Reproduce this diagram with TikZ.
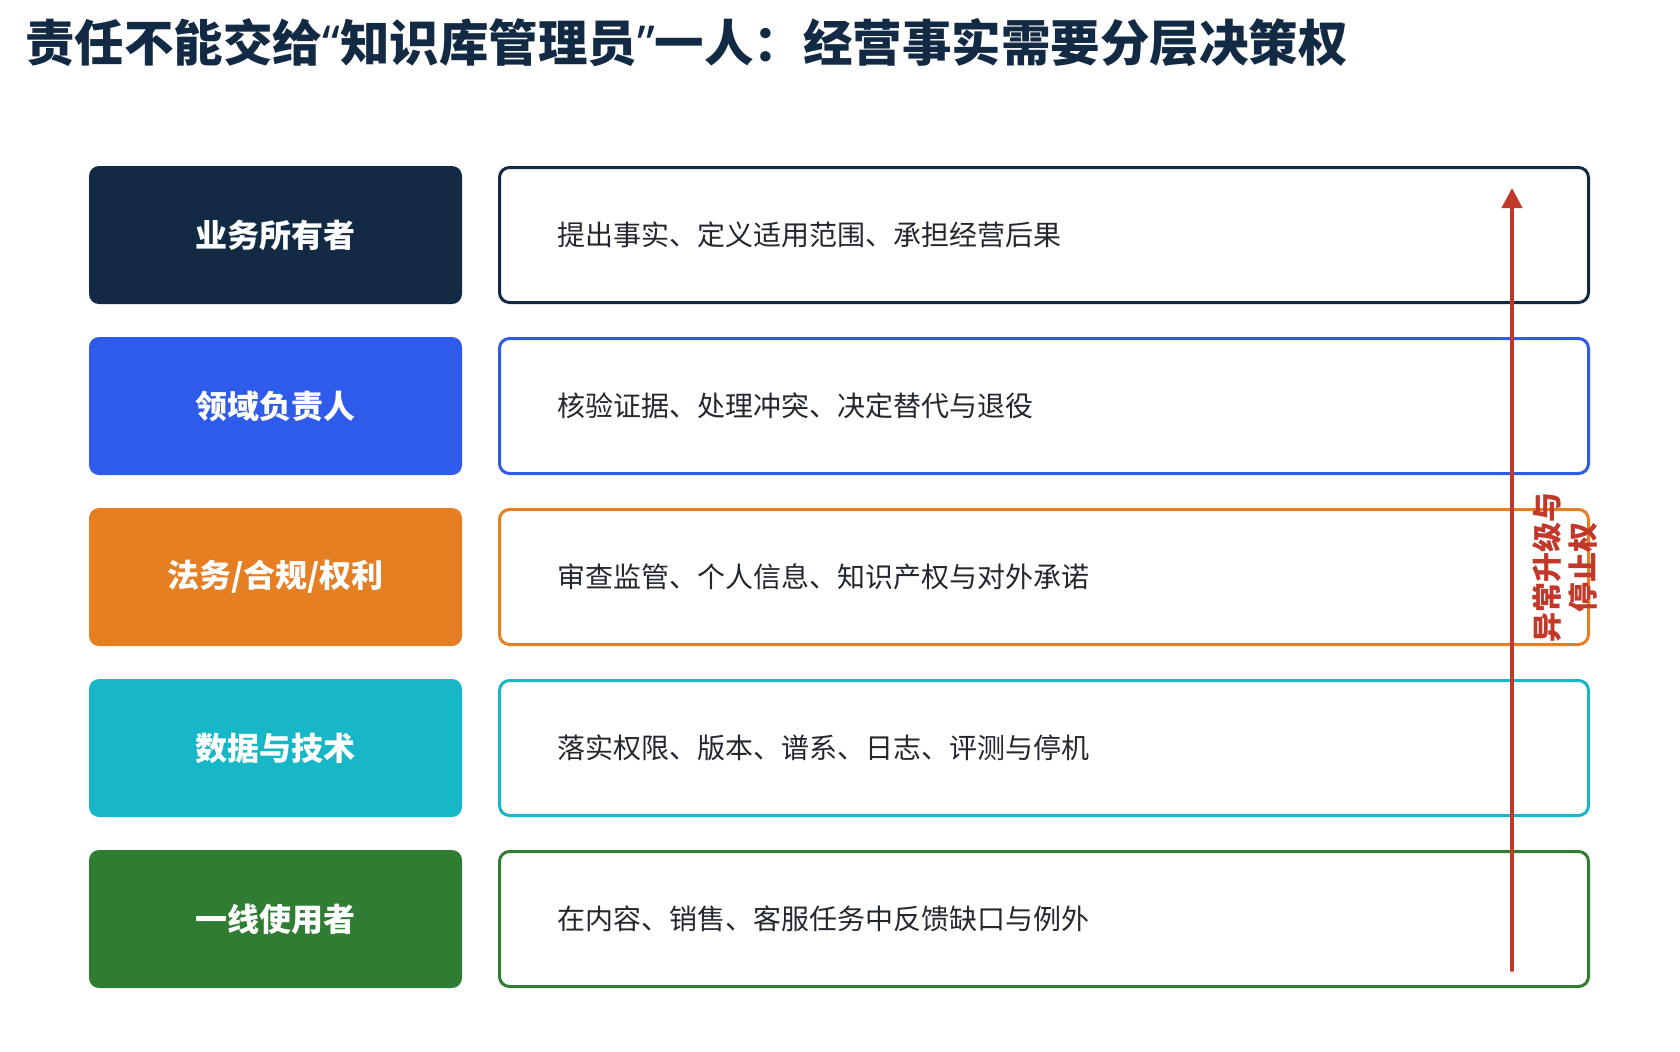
\documentclass[tikz,border=0pt]{standalone}
\usepackage{fontspec}
\setmainfont{Noto Sans CJK SC}
\newfontfamily\quotefont{Noto Sans}
\usetikzlibrary{arrows.meta}
\definecolor{navy}{HTML}{132A45}
\definecolor{roleblue}{HTML}{2F5BEA}
\definecolor{roleorange}{HTML}{E67E22}
\definecolor{rolecyan}{HTML}{17B7C7}
\definecolor{rolegreen}{HTML}{2E7D32}
\definecolor{alertred}{HTML}{C0392B}
\definecolor{dutytext}{HTML}{23282F}

\begin{document}
\begin{tikzpicture}[
            x=0.5pt, y=-0.5pt,
            every node/.style={inner sep=0pt},
            rolebox/.style={fill=#1, rounded corners=5pt, minimum width=186.5pt,
                minimum height=69pt, text=white, font=\fontsize{16}{19}\selectfont\bfseries},
            dutybox/.style={draw=#1, line width=1.5pt, rounded corners=5pt,
                minimum height=67.5pt, text width=487pt, inner xsep=28.75pt,
                align=left, text=dutytext, font=\fontsize{14}{17}\selectfont}
        ]
        \useasboundingbox (0,0) rectangle (1680,1051);
        \node[anchor=west, text=navy, font=\fontsize{24.75}{28}\selectfont\bfseries] (title) at (25,43)
            {责任不能交给{\quotefont “}知识库管理员{\quotefont ”}一人：经营事实需要分层决策权};
        % one row per role
        \foreach \i/\c/\role/\duty in {
                1/navy/业务所有者/提出事实、定义适用范围、承担经营后果,
                2/roleblue/领域负责人/核验证据、处理冲突、决定替代与退役,
                3/roleorange/{法务/合规/权利}/审查监管、个人信息、知识产权与对外承诺,
                4/rolecyan/数据与技术/落实权限、版本、谱系、日志、评测与停机,
                5/rolegreen/一线使用者/在内容、销售、客服任务中反馈缺口与例外}
        {
            \node[rolebox=\c] (role\i) at (275.5,{235+(\i-1)*171}) {\role};
            \node[dutybox=\c] (duty\i) at (1044,{235+(\i-1)*171}) {\duty};
        }
        % escalation arrow
        \coordinate (esc0) at (1512,970);
        \coordinate (esc1) at (1512,188);
        \draw[alertred, line width=2pt, line cap=round, -{Triangle[length=10pt, width=10pt]}] (esc0) -- (esc1);
        \node[rotate=90, align=center, text=alertred, font=\fontsize{15}{18}\selectfont\bfseries] (esclabel) at (1565,567)
            {异常升级与\\停止权};
\end{tikzpicture}
\end{document}
